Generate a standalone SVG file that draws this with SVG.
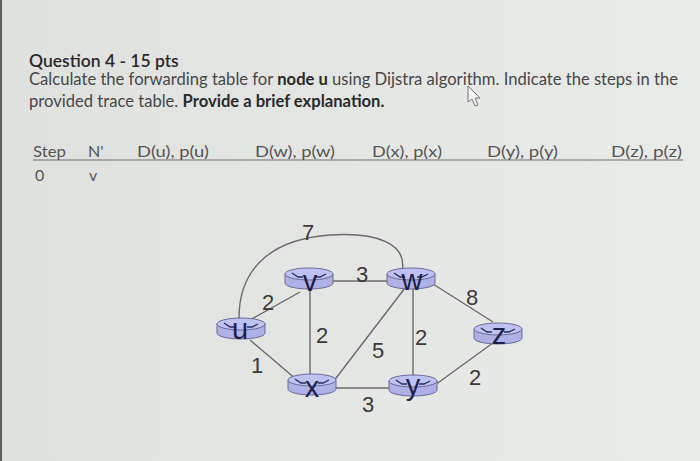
<svg xmlns="http://www.w3.org/2000/svg" width="700" height="461" viewBox="0 0 700 461">
<style>
.q{font-family:Lato,"Liberation Sans",sans-serif;fill:#474747;font-size:16.6px}
.b{font-weight:bold;fill:#2a2a2a}
.t{font-family:Lato,"Liberation Sans",sans-serif;fill:#555;font-size:16px}
.edge{stroke:#6a6a6a;stroke-width:1.4;fill:none}
.lbl{font-family:"Liberation Sans",Arial,sans-serif;font-size:22px;fill:#3a3a3a;text-anchor:middle}
.body{fill:#aeb0e6;stroke:#6a6a98;stroke-width:1}
.top{fill:#bfc1f2;stroke:#6a6a98;stroke-width:1}
.mk{fill:none;stroke:#2c2c5e;stroke-width:1.3}
.nl{font-family:"Liberation Sans",Arial,sans-serif;font-size:29px;fill:#1f1f4c;text-anchor:middle}
</style>
<defs>
<linearGradient id="bg" x1="0" y1="0" x2="1" y2="0">
<stop offset="0" stop-color="#dfe1df"/>
<stop offset="1" stop-color="#e9ebe9"/>
</linearGradient>
<g id="router">
<path class="body" d="M-24,0 v9 a24,6 0 0 0 48,0 v-9 z"/>
<ellipse class="top" cx="0" cy="0" rx="24" ry="6"/>
<path class="mk" d="M-17,-1 L-11,3 L-6,3"/>
<path class="mk" d="M6,3 L11,3 L17,0"/>
</g>
</defs>
<rect width="700" height="461" fill="url(#bg)"/>
<rect x="0" y="0" width="2" height="461" fill="#5e5e5e"/>

<text class="q b" x="29" y="67" style="font-weight:600;font-size:17.5px">Question 4 - 15 pts</text>
<text class="q" x="29" y="85">Calculate the forwarding table for <tspan class="b">node u</tspan> using Dijstra algorithm. Indicate the steps in the</text>
<text class="q" x="29" y="107">provided trace table. <tspan class="b">Provide a brief explanation.</tspan></text>
<path d="M468,86 L468,102 L472,99 L475,106 L478,105 L475,98 L480,98 Z" fill="#f4f4f4" stroke="#777" stroke-width="1"/>

<g id="table">
<line x1="33" y1="160" x2="683" y2="160" stroke="#6a6a6a" stroke-width="1"/>
<text class="t" x="33" y="157" textLength="33" lengthAdjust="spacingAndGlyphs">Step</text>
<text class="t" x="88" y="157">N'</text>
<text class="t" x="137" y="157" textLength="72" lengthAdjust="spacingAndGlyphs">D(u), p(u)</text>
<text class="t" x="255" y="157" textLength="80" lengthAdjust="spacingAndGlyphs">D(w), p(w)</text>
<text class="t" x="372" y="157" textLength="70" lengthAdjust="spacingAndGlyphs">D(x), p(x)</text>
<text class="t" x="487" y="157" textLength="71" lengthAdjust="spacingAndGlyphs">D(y), p(y)</text>
<text class="t" x="611" y="157" textLength="71" lengthAdjust="spacingAndGlyphs">D(z), p(z)</text>
<text class="t" x="35" y="181">0</text>
<text class="t" x="89" y="181">v</text>
</g>

<g id="connectors">
<path class="edge" d="M239,318 C239,268 272,239 330,235 C378,232 408,244 402,272"/>
<line class="edge" x1="250" y1="320" x2="300" y2="292"/>
<line class="edge" x1="250" y1="340" x2="297" y2="380"/>
<line class="edge" x1="310" y1="285" x2="310" y2="378"/>
<line class="edge" x1="333" y1="281" x2="387" y2="281"/>
<line class="edge" x1="405" y1="288" x2="333" y2="382"/>
<line class="edge" x1="413" y1="285" x2="413" y2="378"/>
<line class="edge" x1="433" y1="284" x2="493" y2="322"/>
<line class="edge" x1="335" y1="388" x2="392" y2="388"/>
<line class="edge" x1="435" y1="385" x2="497" y2="340"/>
<text class="lbl" x="308" y="240">7</text>
<text class="lbl" x="362" y="282">3</text>
<text class="lbl" x="268" y="310">2</text>
<text class="lbl" x="472" y="305">8</text>
<text class="lbl" x="322" y="343">2</text>
<text class="lbl" x="378" y="358">5</text>
<text class="lbl" x="421" y="345">2</text>
<text class="lbl" x="257" y="373">1</text>
<text class="lbl" x="475" y="385">2</text>
<text class="lbl" x="368" y="412">3</text>
</g>

<g id="node-u"><use href="#router" x="241" y="324"/><text class="nl" x="240" y="339">u</text></g>
<g id="node-v"><use href="#router" x="309" y="274"/><text class="nl" x="310" y="291">v</text></g>
<g id="node-w"><use href="#router" x="411" y="274"/><text class="nl" x="412" y="290">w</text></g>
<g id="node-z"><use href="#router" x="498" y="329"/><text class="nl" x="499" y="344">z</text></g>
<g id="node-x"><use href="#router" x="312" y="380"/><text class="nl" x="312" y="397">x</text></g>
<g id="node-y"><use href="#router" x="413" y="381"/><text class="nl" x="413" y="395">y</text></g>
</svg>
